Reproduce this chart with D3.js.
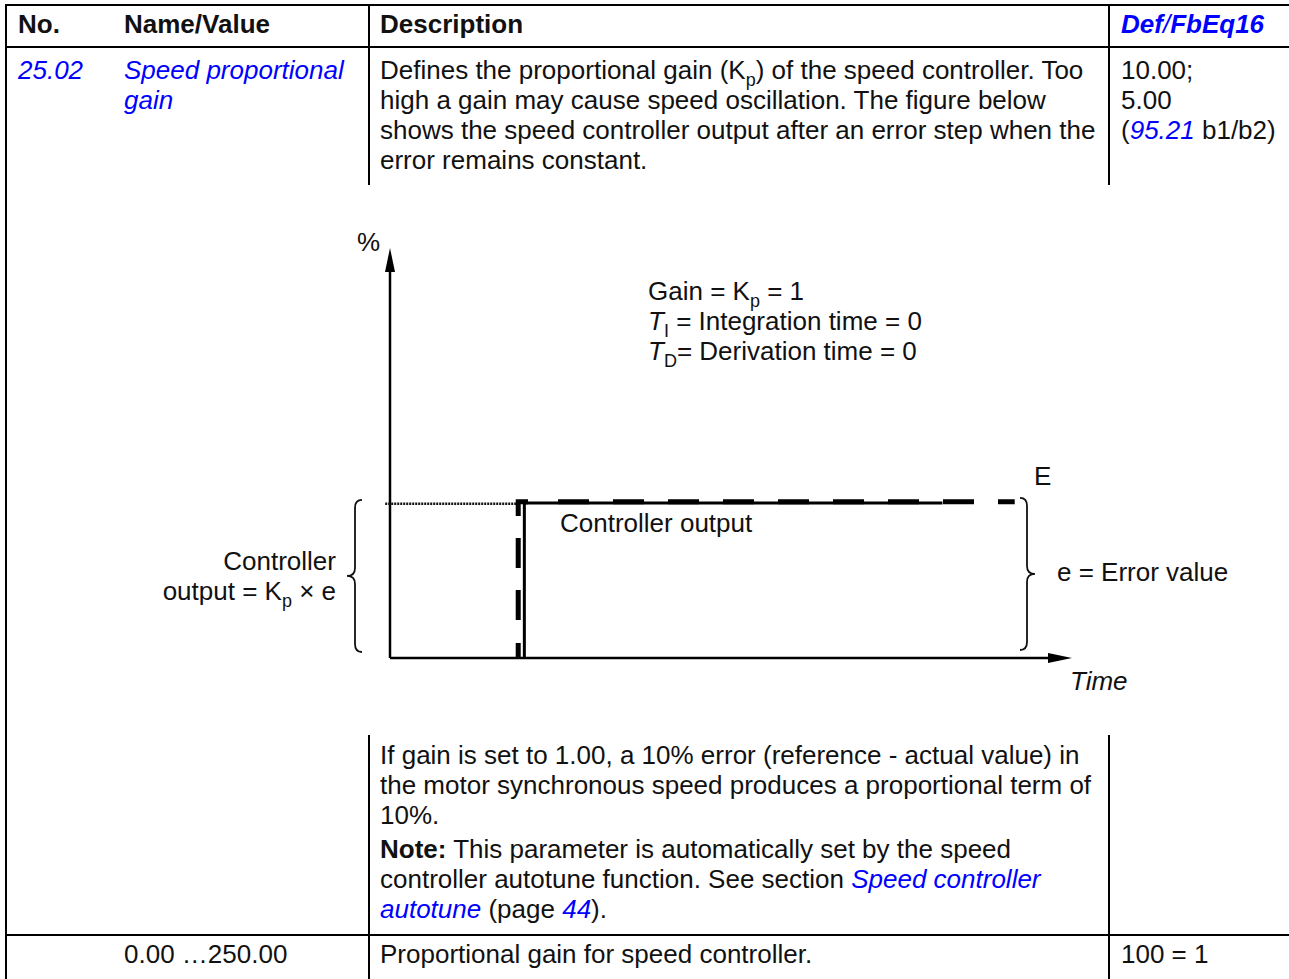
<!DOCTYPE html>
<html><head><meta charset="utf-8">
<script src="https://cdn.jsdelivr.net/npm/d3@7"></script>
<style>html,body{margin:0;padding:0;background:#fff;}svg{display:block;}</style>
</head><body>
<svg id="c" width="1289" height="979"></svg>
<script>
// ---- data ----
const timeDomain = [0, 100];      // time axis (arbitrary units)
const percentDomain = [0, 100];   // % axis
const errorStep = [[18.8, 0], [18.8, 38.1], [91.6, 38.1]];      // E (dashed)
const controllerOutput = [[19.7, 0], [19.7, 37.8], [81.0, 37.8]]; // solid
const referenceLevel = [[-0.7, 37.6], [18.8, 37.6]];            // dotted
const paramNo = "25.02";
const paramName = ["Speed proportional", "gain"];
const defaults = ["10.00;", "5.00"];
const rangeText = "0.00 …250.00";
const scaleText = "100 = 1";

const svg = d3.select("#c");
const BLUE = "#0000ff";
const FONT = "'Liberation Sans', Arial, sans-serif";
const FS = 26;

function txt(x, y, segs, opts = {}) {
  const t = svg.append("text").attr("x", x).attr("y", y)
    .attr("font-family", FONT).attr("font-size", FS).attr("fill", "#111");
  if (opts.anchor) t.attr("text-anchor", opts.anchor);
  let shift = 0;
  segs.forEach(s => {
    if (typeof s === "string") s = { t: s };
    const sp = t.append("tspan").text(s.t);
    if (s.b) sp.attr("font-weight", "bold");
    if (s.i) sp.attr("font-style", "italic");
    if (s.c) sp.attr("fill", s.c);
    if (s.sub) { sp.attr("font-size", 18).attr("dy", 7 - shift); shift = 7; }
    else if (shift) { sp.attr("dy", -shift); shift = 0; }
  });
  return t;
}

// ---- table lines ----
const L = (x1, y1, x2, y2, w = 2) => svg.append("line").attr("x1", x1).attr("y1", y1)
  .attr("x2", x2).attr("y2", y2).attr("stroke", "#000").attr("stroke-width", w);
L(5, 5, 1289, 5);
L(6, 5, 6, 979);
L(5, 47, 1289, 47);
L(369, 5, 369, 185);
L(1109, 5, 1109, 185);
L(369, 735, 369, 979);
L(1109, 735, 1109, 979);
L(5, 935, 1289, 935);

// ---- header ----
txt(18, 33, [{ t: "No.", b: 1 }]);
txt(124, 33, [{ t: "Name/Value", b: 1 }]);
txt(380, 33, [{ t: "Description", b: 1 }]);
txt(1121, 33, [{ t: "Def", b: 1, i: 1, c: BLUE }, { t: "/", i: 1, c: BLUE }, { t: "FbEq16", b: 1, i: 1, c: BLUE }]);

// ---- row 1 ----
txt(18, 79, [{ t: paramNo, i: 1, c: BLUE }]);
paramName.forEach((s, k) => txt(124, 79 + 30 * k, [{ t: s, i: 1, c: BLUE }]));
txt(380, 79, ["Defines the proportional gain (K", { t: "p", sub: 1 }, ") of the speed controller. Too"]);
txt(380, 109, ["high a gain may cause speed oscillation. The figure below"]);
txt(380, 139, ["shows the speed controller output after an error step when the"]);
txt(380, 169, ["error remains constant."]);
defaults.forEach((s, k) => txt(1121, 79 + 30 * k, [s]));
txt(1121, 139, ["(", { t: "95.21", i: 1, c: BLUE }, " b1/b2)"]);

// ---- diagram ----
const x = d3.scaleLinear().domain(timeDomain).range([390, 1072]);
const y = d3.scaleLinear().domain(percentDomain).range([658, 248]);
const line = d3.line().x(d => x(d[0])).y(d => y(d[1]));

// axes
svg.append("line").attr("x1", x(0)).attr("y1", y(0)).attr("x2", x(0)).attr("y2", y(100) + 18)
  .attr("stroke", "#000").attr("stroke-width", 2.5);
svg.append("path").attr("d", `M${x(0)},${y(100)} L${x(0) - 5},${y(100) + 24} L${x(0) + 5},${y(100) + 24} Z`).attr("fill", "#000");
svg.append("line").attr("x1", x(0)).attr("y1", y(0)).attr("x2", x(100) - 18).attr("y2", y(0))
  .attr("stroke", "#000").attr("stroke-width", 2.5);
svg.append("path").attr("d", `M${x(100)},${y(0)} L${x(100) - 24},${y(0) - 5} L${x(100) - 24},${y(0) + 5} Z`).attr("fill", "#000");

// dotted reference
svg.append("path").attr("d", line(referenceLevel)).attr("fill", "none")
  .attr("stroke", "#111").attr("stroke-width", 2.5).attr("stroke-dasharray", "2,1");
// controller output (solid)
svg.append("path").attr("d", line(controllerOutput)).attr("fill", "none")
  .attr("stroke", "#000").attr("stroke-width", 3);
// error step (dashed)
svg.append("path").attr("d", line(errorStep)).attr("fill", "none")
  .attr("stroke", "#000").attr("stroke-width", 5).attr("stroke-dasharray", "15,23,30,22,30,22,24,30,31,24,31,24,31,24,31,24,31,24,31,24,31,24,31,24,31,24,16,60")
  .attr("stroke-dashoffset", 0);

// braces
function brace(xe, xm, xt, y1, y2, col = "#111") {
  const ym = (y1 + y2) / 2, r = 8;
  const d = `M${xe},${y1} Q${xm},${y1} ${xm},${y1 + r} L${xm},${ym - r} Q${xm},${ym} ${xt},${ym} Q${xm},${ym} ${xm},${ym + r} L${xm},${y2 - r} Q${xm},${y2} ${xe},${y2}`;
  svg.append("path").attr("d", d).attr("fill", "none").attr("stroke", col).attr("stroke-width", 1.8);
}
brace(362, 355, 347, y(errorStep[1][1]) - 2, y(0) - 6);
brace(1020, 1027, 1035, y(errorStep[1][1]) - 4, y(0) - 8);

// diagram labels
txt(357, 251, ["%"]);
txt(648, 300, ["Gain = K", { t: "p", sub: 1 }, " = 1"]);
txt(648, 330, [{ t: "T", i: 1 }, { t: "I", sub: 1 }, " = Integration time = 0"]);
txt(648, 360, [{ t: "T", i: 1 }, { t: "D", sub: 1 }, "= Derivation time = 0"]);
txt(1034, 485, ["E"]);
txt(560, 532, ["Controller output"]);
txt(336, 570, ["Controller"], { anchor: "end" });
txt(336, 600, ["output = K", { t: "p", sub: 1 }, " × e"], { anchor: "end" });
txt(1057, 581, ["e = Error value"]);
txt(1070, 690, [{ t: "Time", i: 1 }]);

// ---- lower description ----
txt(380, 764, ["If gain is set to 1.00, a 10% error (reference - actual value) in"]);
txt(380, 794, ["the motor synchronous speed produces a proportional term of"]);
txt(380, 824, ["10%."]);
txt(380, 858, [{ t: "Note:", b: 1 }, " This parameter is automatically set by the speed"]);
txt(380, 888, ["controller autotune function. See section ", { t: "Speed controller", i: 1, c: BLUE }]);
txt(380, 918, [{ t: "autotune", i: 1, c: BLUE }, " (page ", { t: "44", i: 1, c: BLUE }, ")."]);

// ---- last row ----
txt(124, 963, [rangeText]);
txt(380, 963, ["Proportional gain for speed controller."]);
txt(1121, 963, [scaleText]);
</script>
</body></html>
